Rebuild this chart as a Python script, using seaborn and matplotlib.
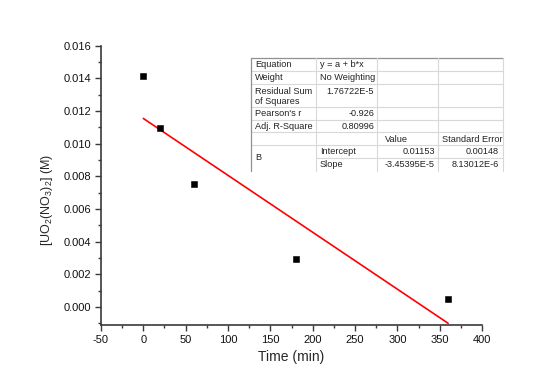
import matplotlib
matplotlib.use("Agg")
import matplotlib.pyplot as plt
import seaborn as sns
import numpy as np
import pandas as pd
from matplotlib.ticker import MultipleLocator, AutoMinorLocator
from matplotlib.lines import Line2D

# ---- data ----
time_min = [0, 20, 60, 180, 360]
conc_M = [0.01416, 0.01096, 0.00755, 0.00296, 0.00047]

table_rows = [
    ["Equation", "y = a + b*x", "", ""],
    ["Weight", "No Weighting", "", ""],
    ["Residual Sum\nof Squares", "1.76722E-5", "", ""],
    ["Pearson's r", "-0.926", "", ""],
    ["Adj. R-Square", "0.80996", "", ""],
    ["", "", "Value", "Standard Error"],
    ["B", "Intercept", "0.01153", "0.00148"],
    ["", "Slope", "-3.45395E-5", "8.13012E-6"],
]

sns.set_style("ticks")
plt.rcParams["font.family"] = ["Liberation Sans", "DejaVu Sans"]
plt.rcParams["mathtext.fontset"] = "custom"
plt.rcParams["mathtext.rm"] = "Liberation Sans"
plt.rcParams["mathtext.it"] = "Liberation Sans"

W, H = 560, 390
fig = plt.figure(figsize=(W / 100, H / 100), dpi=100)
ax = fig.add_axes([101 / W, 1 - 325 / H, (482 - 101) / W, (325 - 45.5) / H])

df = pd.DataFrame({"t": time_min, "c": conc_M})
sns.regplot(data=df, x="t", y="c", ax=ax, scatter=False, ci=None,
            line_kws=dict(color="#ff0000", lw=1.2), truncate=True)
sns.scatterplot(data=df, x="t", y="c", ax=ax, marker="s", s=20,
                color="black", edgecolor="black", linewidth=0.4, zorder=5)

ax.set_xlim(-50, 400)
ax.set_ylim(-0.0011, 0.016)
ax.xaxis.set_major_locator(MultipleLocator(50))
ax.xaxis.set_minor_locator(AutoMinorLocator(2))
ax.yaxis.set_major_locator(MultipleLocator(0.002))
ax.yaxis.set_minor_locator(AutoMinorLocator(2))
ax.yaxis.set_major_formatter(plt.FuncFormatter(lambda v, p: f"{v:.3f}"))
ax.xaxis.set_major_formatter(plt.FuncFormatter(lambda v, p: f"{v:.0f}"))
sc = "#3a3a3a"
for s in ["top", "right"]:
    ax.spines[s].set_visible(False)
for s in ["left", "bottom"]:
    ax.spines[s].set_color(sc)
    ax.spines[s].set_linewidth(1.2)
ax.tick_params(which="major", direction="out", length=4, width=1.0, color=sc,
               labelsize=8, labelcolor="#111111", pad=3)
ax.tick_params(which="minor", direction="out", length=2.5, width=1.0, color=sc)
ax.set_xlabel("Time (min)", fontsize=10, labelpad=4)
ax.set_ylabel(r"[UO$_2$(NO$_3$)$_2$] (M)", fontsize=9, labelpad=1)
ax.yaxis.set_label_coords(-0.121, 0.447)

# ---- inset table (figure pixel coords) ----
tf = fig.transFigure
def fx(px):
    return px / W
def fy(py):
    return 1 - py / H
def hline(x0, x1, y, c="#d8d8d8", lw=0.8):
    fig.add_artist(Line2D([fx(x0), fx(x1)], [fy(y), fy(y)], color=c, lw=lw, transform=tf))
def vline(x, y0, y1, c="#d8d8d8", lw=0.8):
    fig.add_artist(Line2D([fx(x), fx(x)], [fy(y0), fy(y1)], color=c, lw=lw, transform=tf))

cols = [251, 316, 377, 438, 503]
rows = [57.5, 71, 84, 107, 119.5, 132, 145, 158, 170.5]
fig.add_artist(plt.Rectangle((fx(cols[0]), fy(rows[-1])), fx(cols[-1]) - fx(cols[0]),
                             fy(rows[0]) - fy(rows[-1]), transform=tf,
                             facecolor="white", edgecolor="none", zorder=0))
for i, y in enumerate(rows[1:-1], start=1):
    if i == 7:
        hline(cols[1], cols[-1], y)
    else:
        hline(cols[0], cols[-1], y)
hline(cols[0], cols[-1], rows[0], c="#909090", lw=0.9)
vline(cols[0], rows[0], rows[-1], c="#909090", lw=0.9)
for x in cols[1:]:
    vline(x, rows[0], rows[-1])

tk = dict(fontsize=6.6, color="#222222", transform=tf)
for r, row in enumerate(table_rows):
    ymid = (rows[r] + rows[r + 1]) / 2 + 0.5
    tall = (rows[r + 1] - rows[r]) > 16
    for c, txt in enumerate(row):
        if not txt:
            continue
        numeric = txt[0].isdigit() or txt.startswith("-")
        if c == 0 and txt == "B":
            fig.text(fx(cols[0] + 4), fy((rows[6] + rows[8]) / 2), txt, ha="left", va="center", **tk)
        elif numeric:
            xr = cols[c + 1] - (4 if c == 3 else 3)
            if tall:
                fig.text(fx(xr), fy(91.5), txt, ha="right", va="center", **tk)
            else:
                fig.text(fx(xr), fy(ymid), txt, ha="right", va="center", **tk)
        else:
            pad = 8 if txt == "Value" else 4
            if tall:
                fig.text(fx(cols[c] + pad), fy(87.5), txt, ha="left", va="top", linespacing=1.1, **tk)
            else:
                fig.text(fx(cols[c] + pad), fy(ymid), txt, ha="left", va="center", **tk)

fig.savefig("out.png", dpi=100)
